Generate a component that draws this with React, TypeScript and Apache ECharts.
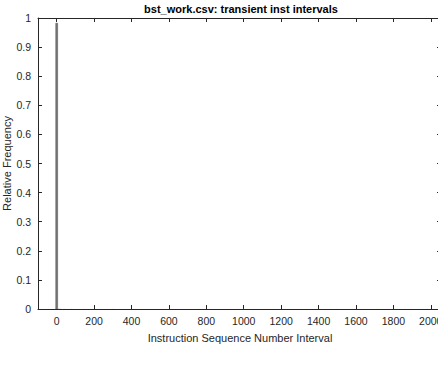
import React, { useEffect, useRef } from "react";
import * as echarts from "echarts";

const title = "bst_work.csv: transient inst intervals";
const xLabel = "Instruction Sequence Number Interval";
const yLabel = "Relative Frequency";
const xTicks = [0, 200, 400, 600, 800, 1000, 1200, 1400, 1600, 1800, 2000];
const binWidth = 10;
// bin centers and relative frequencies
const binCenters = [0, 10, 20, 40, 80, 150, 300, 520, 760, 1000, 1250, 1500, 1720, 1950];
const binValues = [0.982, 0.002, 0.001, 0.0008, 0.0006, 0.0005, 0.0005, 0.0004, 0.0004, 0.0004, 0.0004, 0.0004, 0.0004, 0.0004];

const FONT = "'Liberation Sans', Arial, Helvetica, sans-serif";
const AX = "#262626";

export default function App() {
  const ref = useRef<HTMLDivElement>(null);
  useEffect(() => {
    if (!ref.current) return;
    const chart = echarts.init(ref.current, null, { renderer: "svg" });
    const data = binCenters.map((c, i) => [c - binWidth / 2, c + binWidth / 2, binValues[i]]);
    const commonX = {
      type: "value" as const,
      min: -100,
      max: 2060,
      splitLine: { show: false },
      axisLine: { show: true, onZero: false, lineStyle: { color: AX, width: 1 } },
    };
    const commonY = {
      type: "value" as const,
      min: 0,
      max: 1,
      interval: 0.1,
      splitLine: { show: false },
      axisLine: { show: true, onZero: false, lineStyle: { color: AX, width: 1 } },
    };
    chart.setOption({
      animation: false,
      title: {
        text: title,
        left: 241,
        top: 3,
        padding: 0,
        textAlign: "center",
        textStyle: { fontFamily: FONT, fontSize: 11, fontWeight: "bold", color: "#000", lineHeight: 12 },
      },
      grid: { left: 38, top: 18, width: 404, height: 291, containLabel: false, outerBoundsMode: "none" },
      xAxis: [
        {
          ...commonX,
          position: "bottom",
          name: xLabel,
          nameLocation: "middle",
          nameGap: 23,
          nameMoveOverlap: false,
          nameTextStyle: { fontFamily: FONT, fontSize: 11, color: AX },
          axisTick: { show: true, inside: true, length: 4, customValues: xTicks, lineStyle: { color: AX } },
          axisLabel: {
            show: true,
            customValues: xTicks,
            fontFamily: FONT,
            fontSize: 10.5,
            color: AX,
            margin: 6,
            formatter: (v: number) => String(v),
          },
        },
        {
          ...commonX,
          position: "top",
          axisTick: { show: true, inside: true, length: 4, customValues: xTicks, lineStyle: { color: AX } },
          axisLabel: { show: false },
        },
      ],
      yAxis: [
        {
          ...commonY,
          position: "left",
          name: yLabel,
          nameLocation: "middle",
          nameGap: 26,
          nameRotate: 90,
          nameMoveOverlap: false,
          nameTextStyle: { fontFamily: FONT, fontSize: 11, color: AX },
          axisTick: { show: true, inside: true, length: 4, lineStyle: { color: AX } },
          axisLabel: {
            fontFamily: FONT,
            fontSize: 10.5,
            color: AX,
            margin: 7,
            formatter: (v: number) => String(Math.round(v * 10) / 10),
          },
        },
        {
          ...commonY,
          position: "right",
          axisTick: { show: true, inside: true, length: 5, lineStyle: { color: AX } },
          axisLabel: { show: false },
        },
      ],
      series: [
        {
          type: "custom",
          xAxisIndex: 0,
          yAxisIndex: 0,
          data,
          clip: true,
          renderItem: (params: any, api: any) => {
            const x0 = api.value(0);
            const x1 = api.value(1);
            const y = api.value(2);
            const p0 = api.coord([x0, 0]);
            const p1 = api.coord([x1, y]);
            const h = p0[1] - p1[1];
            return {
              type: "rect",
              shape: { x: p0[0], y: p1[1], width: Math.max(p1[0] - p0[0], 1), height: h },
              style: h > 2 ? { fill: "#777777", stroke: "#4d4d4d", lineWidth: 0.5 } : { fill: "#cfcfcf" },
            };
          },
        },
      ],
    });
    return () => chart.dispose();
  }, []);
  return <div ref={ref} style={{ position: "fixed", left: 0, top: 0, width: 438, height: 369, background: "#fff" }} />;
}
